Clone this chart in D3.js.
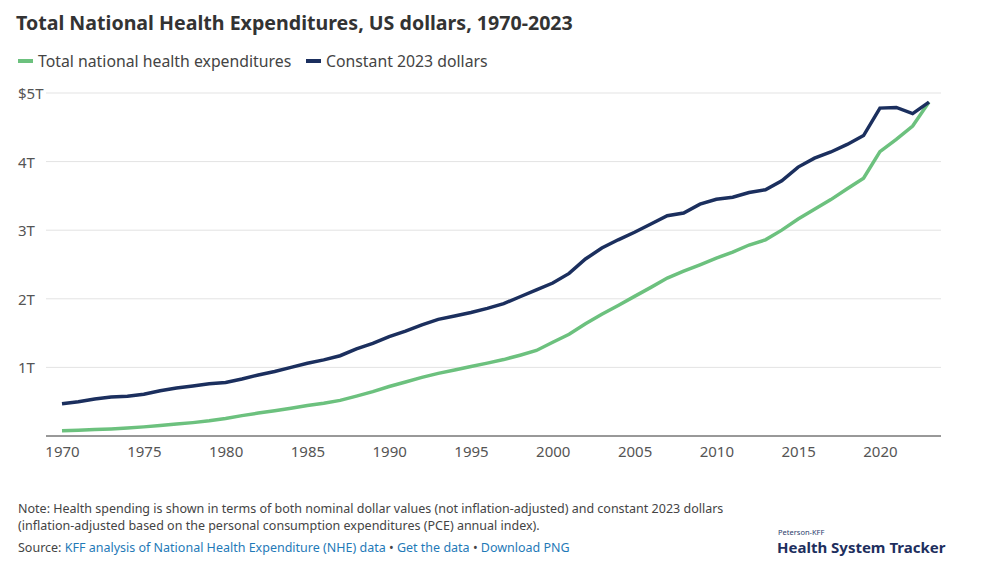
<!DOCTYPE html>
<html><head><meta charset="utf-8">
<script src="https://cdn.jsdelivr.net/npm/d3@7"></script>
<style>
body{margin:0;background:#fff;}
svg text{font-family:"Noto Sans","Open Sans",sans-serif;}
</style></head><body>
<svg id="c" width="1004" height="575"></svg>
<script>
const years = d3.range(1970, 2024);
const nominal = [0.075,0.083,0.093,0.103,0.117,0.133,0.153,0.174,0.195,0.221,0.255,0.297,0.334,0.368,0.406,0.444,0.476,0.519,0.581,0.647,0.721,0.788,0.854,0.913,0.961,1.012,1.062,1.114,1.178,1.247,1.366,1.482,1.637,1.775,1.902,2.035,2.167,2.302,2.402,2.496,2.594,2.680,2.784,2.859,3.001,3.163,3.305,3.446,3.604,3.757,4.145,4.323,4.518,4.867];
const constant = [0.47,0.50,0.54,0.57,0.58,0.61,0.66,0.70,0.73,0.76,0.78,0.83,0.89,0.94,1.00,1.06,1.11,1.17,1.27,1.35,1.45,1.53,1.62,1.70,1.75,1.80,1.86,1.93,2.03,2.13,2.23,2.37,2.58,2.74,2.86,2.97,3.09,3.21,3.25,3.38,3.45,3.48,3.55,3.59,3.72,3.92,4.05,4.14,4.25,4.38,4.78,4.79,4.70,4.867];
const yTicks = [1,2,3,4,5];
const xTicks = [1970,1975,1980,1985,1990,1995,2000,2005,2010,2015,2020];
const svg = d3.select("#c");
const x = d3.scaleLinear().domain([1970,2023]).range([62,929]);
const y = d3.scaleLinear().domain([0,5]).range([436,93]);
svg.append("text").attr("x",16).attr("y",30).attr("font-size",19.6).attr("font-weight",700).attr("fill","#333")
  .text("Total National Health Expenditures, US dollars, 1970-2023");
const leg=[["Total national health expenditures","#6cc17e",18],["Constant 2023 dollars","#1b2f5e",306]];
leg.forEach(([t,c,lx])=>{
  svg.append("line").attr("x1",lx).attr("x2",lx+15).attr("y1",61).attr("y2",61).attr("stroke",c).attr("stroke-width",4);
  svg.append("text").attr("x",lx+20).attr("y",67).attr("font-size",15.8).attr("fill","#444").text(t);
});
svg.append("g").selectAll("line").data(yTicks).join("line")
  .attr("x1",46).attr("x2",941).attr("y1",d=>y(d)).attr("y2",d=>y(d)).attr("stroke","#e3e3e3");
svg.append("g").selectAll("text").data(yTicks).join("text")
  .attr("x",18).attr("y",d=>y(d)+6).attr("font-size",15).attr("fill","#555")
  .text(d=>d===5?"$5T":d+"T");
const xa = svg.append("g").attr("transform","translate(0,436)")
  .call(d3.axisBottom(x).tickValues(xTicks).tickFormat(d3.format("d")).tickSize(0).tickPadding(10));
xa.select(".domain").attr("d","M46,0H941").attr("stroke","#333");
xa.selectAll("text").attr("font-size",15).attr("fill","#555");
const line = d3.line().x((d,i)=>x(years[i])).y(d=>y(d));
svg.append("path").datum(nominal).attr("d",line).attr("fill","none").attr("stroke","#6cc17e").attr("stroke-width",3.5);
svg.append("path").datum(constant).attr("d",line).attr("fill","none").attr("stroke","#1b2f5e").attr("stroke-width",3.5);
const note = svg.append("g").attr("font-size",12.5).attr("fill","#444");
note.append("text").attr("x",18).attr("y",513).text("Note: Health spending is shown in terms of both nominal dollar values (not inflation-adjusted) and constant 2023 dollars");
note.append("text").attr("x",18).attr("y",530).text("(inflation-adjusted based on the personal consumption expenditures (PCE) annual index).");
const src = note.append("text").attr("x",18).attr("y",552);
src.append("tspan").text("Source: ");
src.append("tspan").attr("fill","#1f7ab8").text("KFF analysis of National Health Expenditure (NHE) data");
src.append("tspan").text(" • ");
src.append("tspan").attr("fill","#1f7ab8").text("Get the data");
src.append("tspan").text(" • ");
src.append("tspan").attr("fill","#1f7ab8").text("Download PNG");
svg.append("text").attr("x",778).attr("y",535).attr("font-size",7.5).attr("font-family","serif").attr("fill","#2a3b6b").text("Peterson-KFF");
svg.append("text").attr("x",777).attr("y",553).attr("font-size",15).attr("font-weight",700).attr("fill","#1e2f5e").text("Health System Tracker");
</script></body></html>
